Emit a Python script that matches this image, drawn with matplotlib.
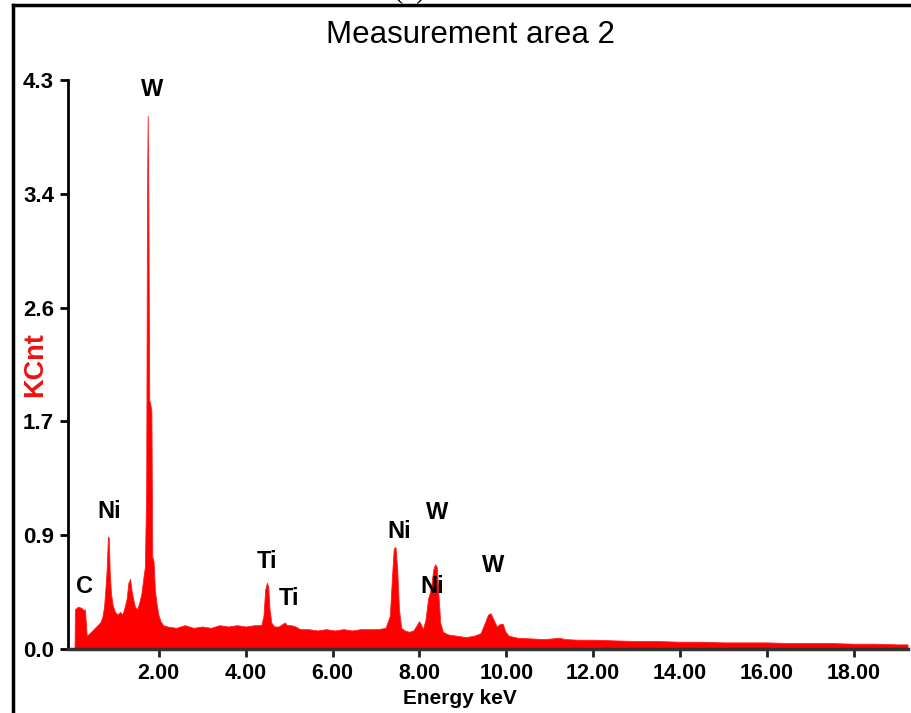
import matplotlib
matplotlib.use("Agg")
import matplotlib.pyplot as plt
from matplotlib.lines import Line2D

plt.rcParams['font.family'] = ['Liberation Sans', 'DejaVu Sans']

# Spectre EDS (energie en keV, comptage en KCnt)
energie = [0.06, 0.07, 0.14, 0.22, 0.28, 0.30, 0.34, 0.41, 0.47, 0.53, 0.59, 0.65,
           0.70, 0.74, 0.77, 0.80, 0.83, 0.85, 0.87, 0.90, 0.94, 0.99, 1.05, 1.11,
           1.16, 1.20, 1.26, 1.30, 1.34, 1.37, 1.41, 1.45, 1.50, 1.55, 1.60, 1.65,
           1.68, 1.71, 1.73, 1.745, 1.76, 1.78, 1.80, 1.83, 1.85, 1.88, 1.91, 1.95,
           1.99, 2.04, 2.10, 2.20, 2.40, 2.60, 2.80, 3.00, 3.20, 3.40, 3.60, 3.80,
           4.00, 4.20, 4.36, 4.41, 4.45, 4.49, 4.52, 4.55, 4.59, 4.66, 4.76, 4.85,
           4.90, 4.95, 5.05, 5.15, 5.25, 5.45, 5.65, 5.85, 6.05, 6.25, 6.45, 6.65,
           6.85, 7.05, 7.22, 7.32, 7.37, 7.41, 7.45, 7.49, 7.53, 7.58, 7.66, 7.76,
           7.86, 7.94, 7.99, 8.03, 8.08, 8.14, 8.20, 8.26, 8.32, 8.36, 8.40, 8.44,
           8.48, 8.54, 8.66, 8.86, 9.06, 9.26, 9.41, 9.51, 9.58, 9.64, 9.71, 9.78,
           9.86, 9.92, 9.98, 10.06, 10.26, 10.56, 10.86, 11.06, 11.21, 11.36, 11.66,
           12.00, 12.50, 13.00, 13.50, 14.00, 14.50, 15.00, 15.50, 16.00, 16.50,
           17.00, 17.50, 18.00, 18.50, 19.00, 19.24]
kcnt = [0.00, 0.30, 0.32, 0.31, 0.29, 0.30, 0.10, 0.12, 0.14, 0.16, 0.18, 0.20,
        0.24, 0.32, 0.45, 0.60, 0.85, 0.84, 0.58, 0.42, 0.33, 0.28, 0.26, 0.28,
        0.26, 0.30, 0.38, 0.50, 0.53, 0.45, 0.38, 0.32, 0.30, 0.35, 0.42, 0.55,
        0.62, 1.20, 3.45, 4.03, 3.40, 1.88, 1.86, 1.80, 0.70, 0.66, 0.45, 0.34,
        0.26, 0.21, 0.18, 0.17, 0.16, 0.18, 0.16, 0.17, 0.16, 0.18, 0.17, 0.18,
        0.17, 0.18, 0.18, 0.25, 0.45, 0.50, 0.47, 0.30, 0.20, 0.17, 0.17, 0.19,
        0.20, 0.18, 0.18, 0.17, 0.15, 0.15, 0.14, 0.15, 0.14, 0.15, 0.14, 0.15,
        0.15, 0.15, 0.16, 0.25, 0.55, 0.76, 0.77, 0.60, 0.30, 0.16, 0.14, 0.13,
        0.14, 0.18, 0.21, 0.19, 0.15, 0.22, 0.38, 0.45, 0.60, 0.64, 0.62, 0.40,
        0.20, 0.13, 0.11, 0.10, 0.09, 0.10, 0.12, 0.20, 0.26, 0.27, 0.22, 0.17,
        0.19, 0.19, 0.13, 0.10, 0.085, 0.08, 0.075, 0.08, 0.085, 0.075, 0.07,
        0.07, 0.065, 0.06, 0.06, 0.055, 0.055, 0.05, 0.05, 0.05, 0.045,
        0.045, 0.045, 0.04, 0.04, 0.035, 0.035]

# Etiquettes des pics : (texte, energie, hauteur)
pics_noms = ['W', 'Ni', 'C', 'Ti', 'Ti', 'Ni', 'W', 'Ni', 'W']
pics_x = [1.84, 0.85, 0.30, 4.49, 5.00, 7.53, 8.41, 8.29, 9.70]
pics_y = [4.23, 1.04, 0.47, 0.66, 0.38, 0.89, 1.03, 0.47, 0.63]

xticks = [2, 4, 6, 8, 10, 12, 14, 16, 18]
yticks = [0.0, 0.86, 1.72, 2.58, 3.44, 4.3]

fig = plt.figure(figsize=(9.12, 7.13), dpi=100)
ax = fig.add_axes([68 / 912, 1 - 649 / 713, 840 / 912, 569 / 713])

ax.fill_between(energie, kcnt, 0, color='#ff0000', linewidth=0.6, edgecolor='#ff2020')

for nom, x, y in zip(pics_noms, pics_x, pics_y):
    ax.text(x, y, nom, ha='center', va='center', fontsize=17, fontweight='bold')

ax.set_xlim(-0.09, 19.25)
ax.set_ylim(0, 4.3)
ax.set_xticks(xticks)
ax.set_xticklabels([f'{v:.2f}' for v in xticks], fontsize=15.5, fontweight='bold')
ax.set_yticks(yticks)
ax.set_yticklabels([f'{v:.1f}' for v in yticks], fontsize=16, fontweight='bold')
ax.tick_params(axis='y', length=6, width=2, pad=4, color='black')
ax.tick_params(axis='x', length=6, width=2, pad=4, color='#222222')

for cote in ['top', 'right']:
    ax.spines[cote].set_visible(False)
ax.spines['left'].set_linewidth(2)
ax.spines['bottom'].set_linewidth(2.5)
ax.spines['bottom'].set_color('#333333')

ax.set_xlabel('Energy keV', fontsize=15, fontweight='bold')
ax.xaxis.set_label_coords(0.467, -0.071)
ax.set_ylabel('KCnt', fontsize=19.5, fontweight='bold', color='#ee1111')
ax.yaxis.set_label_coords(-0.024, 0.5)

fig.text(471 / 912, 1 - 35 / 713, 'Measurement area 2', ha='center', va='center', fontsize=22.5)
# bout du "(b)" coupe en haut de l'image
fig.text(410 / 912, 1 + 8 / 713, '(b)', ha='center', va='center', fontsize=20,
         family='Liberation Serif')

# cadre noir (gauche et haut)
fig.add_artist(Line2D([13 / 912, 13 / 912], [0, 1 - 5 / 713], color='black', linewidth=2.5,
                      transform=fig.transFigure))
fig.add_artist(Line2D([13 / 912, 1], [1 - 5 / 713, 1 - 5 / 713], color='black', linewidth=2.5,
                      transform=fig.transFigure))

fig.savefig('out.png', dpi=100)
